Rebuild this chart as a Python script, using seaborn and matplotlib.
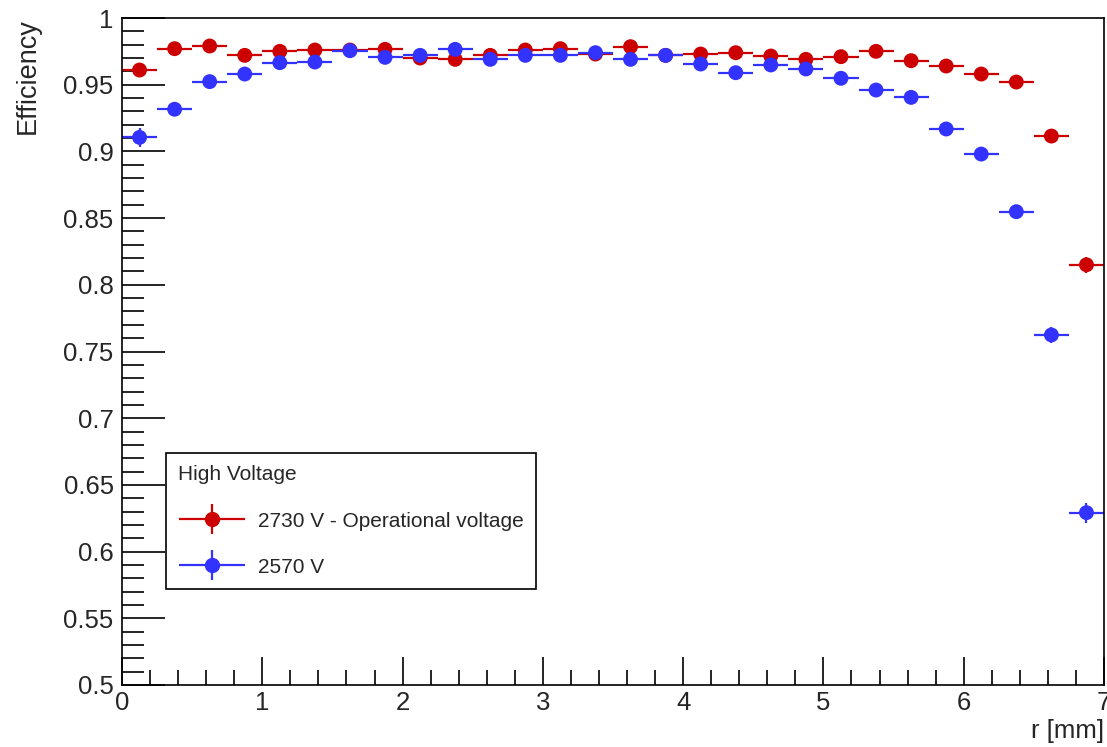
import numpy as np
import pandas as pd
import matplotlib
matplotlib.use("Agg")
import matplotlib.pyplot as plt
from matplotlib.legend_handler import HandlerErrorbar
import seaborn as sns

# ---- data ----
r_centers = [0.125, 0.375, 0.625, 0.875, 1.125, 1.375, 1.625, 1.875, 2.125, 2.375,
             2.625, 2.875, 3.125, 3.375, 3.625, 3.875, 4.125, 4.375, 4.625, 4.875,
             5.125, 5.375, 5.625, 5.875, 6.125, 6.375, 6.625, 6.875]
bin_half_width = [0.125] * 28

eff_2730 = [0.961, 0.977, 0.979, 0.972, 0.975, 0.976, 0.976, 0.9765, 0.970, 0.969,
            0.972, 0.976, 0.977, 0.973, 0.9785, 0.972, 0.973, 0.974, 0.9715, 0.969,
            0.971, 0.975, 0.968, 0.964, 0.958, 0.952, 0.9115, 0.815]
err_2730 = [0.005, 0.003, 0.003, 0.003, 0.003, 0.003, 0.003, 0.003, 0.003, 0.003,
            0.003, 0.003, 0.003, 0.003, 0.003, 0.003, 0.003, 0.003, 0.003, 0.003,
            0.003, 0.003, 0.003, 0.003, 0.003, 0.003, 0.004, 0.006]

eff_2570 = [0.9105, 0.9316, 0.9523, 0.958, 0.9665, 0.967, 0.9755, 0.9705, 0.972, 0.9765,
            0.969, 0.972, 0.972, 0.974, 0.969, 0.972, 0.9655, 0.959, 0.9648, 0.9618,
            0.9548, 0.946, 0.9405, 0.9168, 0.898, 0.8548, 0.7624, 0.6292]
err_2570 = [0.007, 0.004, 0.004, 0.003, 0.003, 0.003, 0.003, 0.003, 0.003, 0.003,
            0.003, 0.003, 0.003, 0.003, 0.003, 0.003, 0.003, 0.003, 0.003, 0.003,
            0.003, 0.003, 0.003, 0.004, 0.004, 0.005, 0.006, 0.0075]

series_labels = ["2730 V - Operational voltage", "2570 V"]
series_colors = ["#cc0000", "#3333ff"]
legend_title = "High Voltage"

df = pd.concat([
    pd.DataFrame({"r": r_centers, "eff": eff_2730, "err": err_2730, "hv": series_labels[0]}),
    pd.DataFrame({"r": r_centers, "eff": eff_2570, "err": err_2570, "hv": series_labels[1]}),
], ignore_index=True)

sns.set_theme(style="ticks")
plt.rcParams["font.family"] = ["Liberation Sans", "DejaVu Sans"]

fig = plt.figure(figsize=(11.07, 7.47), dpi=100)
ax = fig.add_axes([122 / 1107, 1 - 685 / 747, (1104 - 122) / 1107, (685 - 18) / 747])

for lab, col in zip(series_labels, series_colors):
    sub = df[df["hv"] == lab]
    ax.errorbar(sub["r"], sub["eff"], xerr=bin_half_width, yerr=sub["err"],
                fmt="none", ecolor=col, elinewidth=1.6, capsize=0, zorder=2)

sns.scatterplot(data=df, x="r", y="eff", hue="hv", palette=series_colors,
                hue_order=series_labels, s=115, edgecolor="none", legend=False,
                ax=ax, zorder=3)

ax.set_xlim(0, 7)
ax.set_ylim(0.5, 1.0)
ax.xaxis.set_major_locator(matplotlib.ticker.MultipleLocator(1))
ax.xaxis.set_minor_locator(matplotlib.ticker.MultipleLocator(0.2))
ax.yaxis.set_major_locator(matplotlib.ticker.MultipleLocator(0.05))
ax.yaxis.set_minor_locator(matplotlib.ticker.MultipleLocator(0.01))
ax.yaxis.set_major_formatter(matplotlib.ticker.FuncFormatter(lambda v, p: f"{v:g}"))

ax.tick_params(axis="both", which="both", direction="in", top=False, right=False,
               labelsize=18.5, color="black", width=1.2)
ax.tick_params(axis="y", which="major", length=31, pad=6)
ax.tick_params(axis="y", which="minor", length=16)
ax.tick_params(axis="x", which="major", length=20, pad=4)
ax.tick_params(axis="x", which="minor", length=11)
for sp in ax.spines.values():
    sp.set_visible(True)
    sp.set_color("black")
    sp.set_linewidth(1.2)

ax.set_xlabel("r [mm]", loc="right", fontsize=18.5, labelpad=3)
ax.set_ylabel("Efficiency", loc="top", fontsize=19.5, labelpad=16)

handles = []
for lab, col in zip(series_labels, series_colors):
    h = ax.errorbar([np.nan], [np.nan], xerr=[0.1], yerr=[0.1], fmt="o", color=col,
                    ecolor=col, markersize=10, elinewidth=1.6, label=lab)
    handles.append(h)

leg = ax.legend(handles=handles, labels=series_labels, title=legend_title,
                loc="upper left", bbox_to_anchor=((166 - 122) / 982, (685 - 453) / 667),
                borderaxespad=0, fontsize=15, title_fontsize=15, alignment="left",
                frameon=True, fancybox=False, edgecolor="black", framealpha=1,
                handlelength=3.2, handletextpad=0.6, labelspacing=1.3,
                borderpad=0.6,
                handler_map={type(handles[0]): HandlerErrorbar(xerr_size=1.6, yerr_size=0.72)})
leg.get_frame().set_linewidth(1.2)

fig.savefig("out.png", dpi=100, facecolor="white")
